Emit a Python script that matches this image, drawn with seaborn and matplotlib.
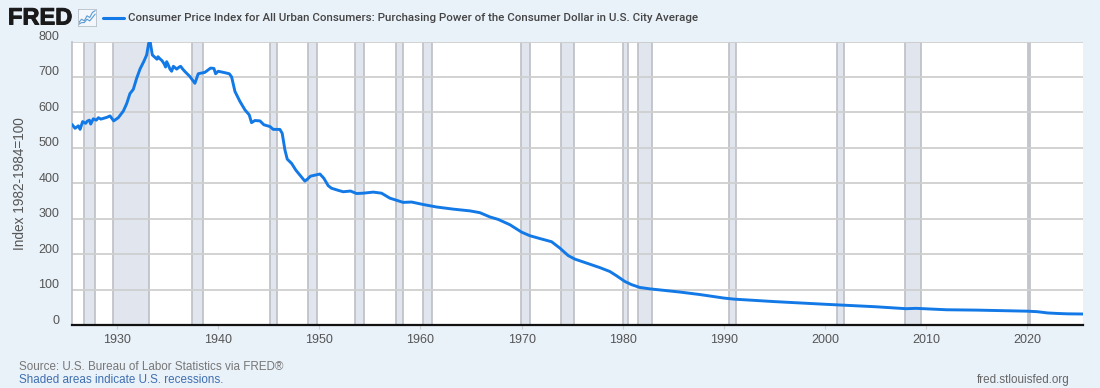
import matplotlib
matplotlib.use("Agg")
import matplotlib.pyplot as plt
import matplotlib.patheffects as pe
from matplotlib.transforms import ScaledTranslation
import pandas as pd
import seaborn as sns

years = [1925.55, 1925.85, 1926.18, 1926.35, 1926.6, 1926.9, 1927.05, 1927.27, 1927.4, 1927.66, 1927.95, 1928.16, 1928.4, 1928.65,
         1929.0, 1929.31, 1929.67, 1930.13, 1930.63, 1930.96, 1931.28, 1931.61, 1931.94, 1932.27, 1932.67,
         1932.93, 1933.13, 1933.29, 1933.49, 1933.75, 1933.95, 1934.05, 1934.25, 1934.45, 1934.68, 1934.8, 1934.91, 1935.05, 1935.24, 1935.4, 1935.57,
         1935.75, 1935.9, 1936.1, 1936.29, 1936.5, 1936.72, 1937.21, 1937.7, 1938.03, 1938.69, 1939.25, 1939.58, 1939.75,
         1940.0, 1940.5, 1941.1, 1941.33, 1941.66, 1942.15, 1942.65, 1943.07, 1943.3, 1943.63,
         1944.13, 1944.52, 1945.12, 1945.44, 1946.1, 1946.33, 1946.6, 1946.83, 1947.26, 1947.68,
         1948.08, 1948.57, 1948.8, 1949.13, 1949.9, 1950.06, 1950.45, 1950.88, 1951.2, 1951.87,
         1952.36, 1953.09, 1953.68, 1954.34, 1955.33, 1956.15, 1956.97, 1957.63, 1958.29, 1959.12,
         1960.27, 1961.59, 1963.23, 1964.9, 1965.87, 1966.86, 1967.68, 1968.84, 1970.0, 1970.81,
         1971.8, 1972.96, 1973.78, 1974.6, 1975.26, 1976.4, 1977.73, 1978.72, 1979.38, 1980.2,
         1980.86, 1981.68, 1982.67, 1983.99, 1985.64, 1987.61, 1990.0, 1991.0, 1995.0, 2000.0,
         2005.0, 2008.0, 2009.0, 2012.0, 2015.0, 2020.0, 2021.0, 2022.0, 2023.0, 2024.0, 2025.5]
values = [566, 555, 562, 552, 574, 569, 575, 578, 567, 582, 578, 585, 581, 583,
          586, 590, 576, 585, 604, 625, 653, 665, 696, 722, 745,
          762, 795, 797, 762, 755, 750, 757, 751, 746, 736, 728, 743, 735, 722, 716, 730,
          726, 722, 727, 730, 722, 715, 701, 682, 709, 713, 725, 724, 709,
          716, 713, 709, 700, 659, 631, 607, 593, 571, 577,
          576, 565, 560, 552, 552, 541, 494, 468, 456, 437,
          423, 406, 411, 420, 425, 426, 414, 393, 386, 380,
          376, 378, 371, 372, 375, 372, 358, 352, 346, 347,
          340, 333, 327, 322, 317, 305, 298, 283, 262, 252,
          244, 235, 217, 196, 186, 175, 162, 151, 139, 123,
          114, 106, 102, 98, 93, 86, 76, 73, 66, 58.5,
          51.5, 46, 47, 43, 42, 39, 37.5, 34, 32.5, 31.5, 31]

recession_start = [1926.75, 1929.6, 1937.37, 1945.1, 1948.87, 1953.5, 1957.6, 1960.3, 1969.92, 1973.87,
                   1980.0, 1981.5, 1990.5, 2001.17, 2007.92, 2020.08]
recession_end = [1927.87, 1933.2, 1938.46, 1945.8, 1949.8, 1954.37, 1958.3, 1961.12, 1970.87, 1975.2,
                 1980.54, 1982.87, 1991.2, 2001.87, 2009.46, 2020.3]

x_ticks = [1930, 1940, 1950, 1960, 1970, 1980, 1990, 2000, 2010, 2020]
y_ticks = [0, 100, 200, 300, 400, 500, 600, 700, 800]

icon_x = [0, 1, 2, 3, 4, 5, 6]
icon_top = [2, 4, 3, 6, 5, 8, 9]
icon_low = [1, 2, 2, 4, 3, 5, 7]

bg = "#e9f1f9"
blue = "#1279e6"
grey = "#555555"

sns.set_theme(style="white")
plt.rcParams['font.family'] = ['Liberation Sans', 'DejaVu Sans']

fig = plt.figure(figsize=(11, 3.88), dpi=100, facecolor=bg)
ax = fig.add_axes([72 / 1100, 1 - 325 / 388, (1083 - 72) / 1100, (325 - 41.5) / 388])
ax.set_facecolor("white")

for a, b in zip(recession_start, recession_end):
    ax.axvspan(a, b, facecolor="#e1e6ee", edgecolor="#bcbfc5", linewidth=1.2, zorder=1)

for t in y_ticks[1:]:
    ax.axhline(t, color="#cfcfcf", linewidth=1.3, zorder=1.5)

df = pd.DataFrame({"year": years, "value": values})
sns.lineplot(data=df, x="year", y="value", color=blue, linewidth=2.1, ax=ax, zorder=3, errorbar=None)

ax.set_xlim(1925.55, 2025.5)
ax.set_ylim(0, 800)
ax.set_xticks(x_ticks)
ax.set_yticks(y_ticks)
ax.tick_params(axis="x", length=3, width=0.8, color="#cfcfcf", labelsize=9, labelcolor=grey, pad=3.5, bottom=True)
ax.tick_params(axis="y", length=0, labelsize=9, labelcolor=grey, pad=9)
# y labels sit a little above their gridlines
up = ScaledTranslation(0, 4.5 / 100, fig.dpi_scale_trans)
for label in ax.get_yticklabels():
    label.set_verticalalignment("center")
    label.set_transform(label.get_transform() + up)
ax.set_xlabel("")
ax.set_ylabel("Index 1982-1984=100", fontsize=9.8, color=grey, labelpad=8)

for side in ["top", "right"]:
    ax.spines[side].set_visible(False)
ax.spines["left"].set_color("#bcbfc5")
ax.spines["left"].set_linewidth(1.2)
ax.spines["bottom"].set_color("#111111")
ax.spines["bottom"].set_linewidth(1.6)

# header
logo = fig.text(8 / 1100, 1 - 18 / 388, "FRED", fontsize=17, fontweight="bold", color="#1a1a1a",
                va="center", ha="left")
logo.set_path_effects([pe.withStroke(linewidth=0.7, foreground="#1a1a1a")])
fig.lines.append(plt.Line2D([103 / 1100, 124 / 1100], [1 - 18 / 388] * 2, color=blue, linewidth=2.2,
                            transform=fig.transFigure, figure=fig))
fig.text(128 / 1100, 1 - 18 / 388, "Consumer Price Index for All Urban Consumers: Purchasing Power of the Consumer Dollar in U.S. City Average",
         fontsize=8.27, fontweight="medium", color="#444444", family=["Roboto", "DejaVu Sans"], va="center", ha="left")

# logo chart icon
icon = fig.add_axes([78 / 1100, 1 - 26 / 388, 18 / 1100, 17 / 388])
icon.set_facecolor("#f3f7fb")
icon.plot(icon_x, icon_top, color="#5b9bd5", linewidth=0.8)
icon.plot(icon_x, icon_low, color="#5b9bd5", linewidth=0.8)
icon.set_xticks([])
icon.set_yticks([])
icon.set_ylim(0, 10)
for s in icon.spines.values():
    s.set_color("#b5bfc9")
    s.set_linewidth(0.6)

# footer
fig.text(19 / 1100, 1 - 367 / 388, "Source: U.S. Bureau of Labor Statistics via FRED\u00ae", fontsize=8.36, color="#777777", va="center")
fig.text(19 / 1100, 1 - 380 / 388, "Shaded areas indicate U.S. recessions.", fontsize=8.36, color="#3f6fb0", va="center")
fig.text(1070 / 1100, 1 - 380 / 388, "fred.stlouisfed.org", fontsize=8.36, color="#666666", va="center", ha="right")

fig.savefig("out.png", dpi=100, facecolor=bg)
